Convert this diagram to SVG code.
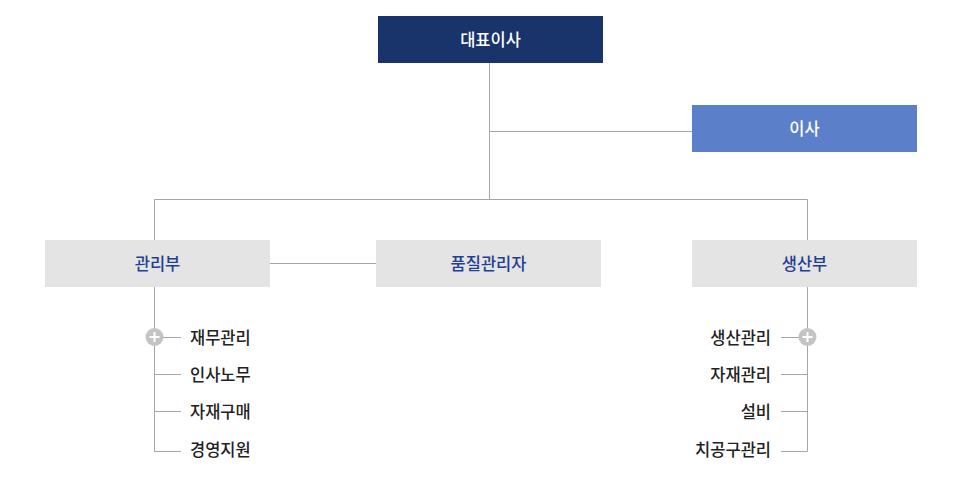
<svg xmlns="http://www.w3.org/2000/svg" width="980" height="484" viewBox="0 0 980 484">
<style>
text{font-family:"Noto Sans CJK KR","Noto Sans",sans-serif;font-size:16.5px;font-weight:500;}
.w{fill:#fff;text-anchor:middle;}
.d{fill:#1f3f93;text-anchor:middle;}
.l{fill:#222;}
.r{fill:#222;text-anchor:end;}
.ln{stroke:#a6a6a6;stroke-width:1;fill:none;}
.g{fill:#e4e4e4;}
</style>
<rect width="980" height="484" fill="#fff"/>
<g id="connectors" class="ln">
<path d="M489.5 63V199M489.5 131.5H692M154.5 240V199.5H807.5V240M270 263.5H376"/>
<path d="M154.5 287V451.5H181M154.5 337.5H181M154.5 374.5H181M154.5 411.5H181"/>
<path d="M807.5 287V451.5H781M807.5 337.5H781M807.5 374.5H781M807.5 411.5H781"/>
</g>
<g id="ceo"><rect x="378" y="16" width="225" height="47" fill="#19336b"/><text class="w" x="490.5" y="45.5">대표이사</text></g>
<g id="director"><rect x="692" y="105" width="225" height="47" fill="#5b7fc8"/><text class="w" x="804.5" y="134.5">이사</text></g>
<g id="admin"><rect class="g" x="45" y="240" width="225" height="47"/><text class="d" x="157.5" y="269.5">관리부</text></g>
<g id="quality"><rect class="g" x="376" y="240" width="225" height="47"/><text class="d" x="488.5" y="269.5">품질관리자</text></g>
<g id="production"><rect class="g" x="692" y="240" width="225" height="47"/><text class="d" x="804.5" y="269.5">생산부</text></g>
<g id="plus-left"><circle cx="154.5" cy="337" r="9" fill="#c4c4c4"/><path d="M149.5 337H159.5M154.5 332V342" stroke="#fff" stroke-width="2"/></g>
<g id="plus-right"><circle cx="807.5" cy="337" r="9" fill="#c4c4c4"/><path d="M802.5 337H812.5M807.5 332V342" stroke="#fff" stroke-width="2"/></g>
<g id="admin-items">
<text class="l" x="190" y="343.5">재무관리</text>
<text class="l" x="190" y="380.5">인사노무</text>
<text class="l" x="190" y="417.5">자재구매</text>
<text class="l" x="190" y="455.5">경영지원</text>
</g>
<g id="prod-items">
<text class="r" x="771" y="343.5">생산관리</text>
<text class="r" x="771" y="380.5">자재관리</text>
<text class="r" x="771" y="417.5">설비</text>
<text class="r" x="771" y="455.5">치공구관리</text>
</g>
</svg>
